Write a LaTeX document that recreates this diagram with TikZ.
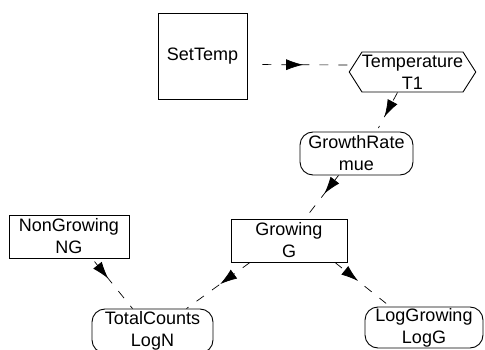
\documentclass[tikz,border=0pt]{standalone}
\usepackage{fontspec}
\setmainfont{Liberation Sans}
\usepackage{tikz}
\usetikzlibrary{arrows.meta,calc,decorations.markings,shapes.symbols}

\tikzset{
  box/.style={draw, line width=0.9pt, inner sep=0pt, align=center,
    font=\fontsize{18}{22}\selectfont},
  var/.style={box, rounded corners=13pt},
  link/.style={line width=0.7pt, dash pattern=on 9pt off 10pt,
    postaction={decorate}, decoration={markings,
      mark=at position #1 with {\arrow{Latex[length=17pt,width=11pt]}}}},
  link/.default=0.5
}

\begin{document}
\begin{tikzpicture}[x=1pt, y=-1pt]
    \useasboundingbox (0,0) rectangle (485,350);

    \node[box, minimum width=89pt, minimum height=86pt] (settemp) at (202.5,56.5) {SetTemp};
    \node[box, shape=signal, signal to=west and east, signal pointer angle=115,
          minimum width=121pt, minimum height=40pt] (temp) at (412.5,72) {Temperature\\T1};
    \node[var, minimum width=113pt, minimum height=43pt] (growthrate) at (356.5,153.5) {GrowthRate\\mue};

    \node[box, minimum width=120pt, minimum height=43pt] (nongrowing) at (69,236.5) {NonGrowing\\NG};
    \node[box, minimum width=116pt, minimum height=43pt] (growing) at (289,240.5) {Growing\\G};

    \node[var, minimum width=121pt, minimum height=44pt] (totalcounts) at (152.5,331) {TotalCounts\\LogN};
    \node[var, minimum width=118pt, minimum height=41pt] (loggrowing) at (424,327.5) {LogGrowing\\LogG};

    % dependencies
    \draw[link=0.55, shorten <=15pt] ([yshift=-8pt]settemp.east) -- ([yshift=7pt]temp.west);
    \draw[link=0.62, shorten >=4pt] ([xshift=-15pt]temp.south) -- ([xshift=20pt]growthrate.north);
    \draw[link=0.42] ([xshift=-18pt]growthrate.south) -- ([xshift=16pt]growing.north);
    \draw[link=0.4, shorten <=4pt] ([xshift=23pt]nongrowing.south) -- ([xshift=-20pt]totalcounts.north);
    \draw[link=0.47] ([xshift=-39pt]growing.south) -- ([xshift=34pt]totalcounts.north);
    \draw[link=0.42, shorten >=5pt] ([xshift=46pt]growing.south) -- ([xshift=-34pt]loggrowing.north);
\end{tikzpicture}
\end{document}
